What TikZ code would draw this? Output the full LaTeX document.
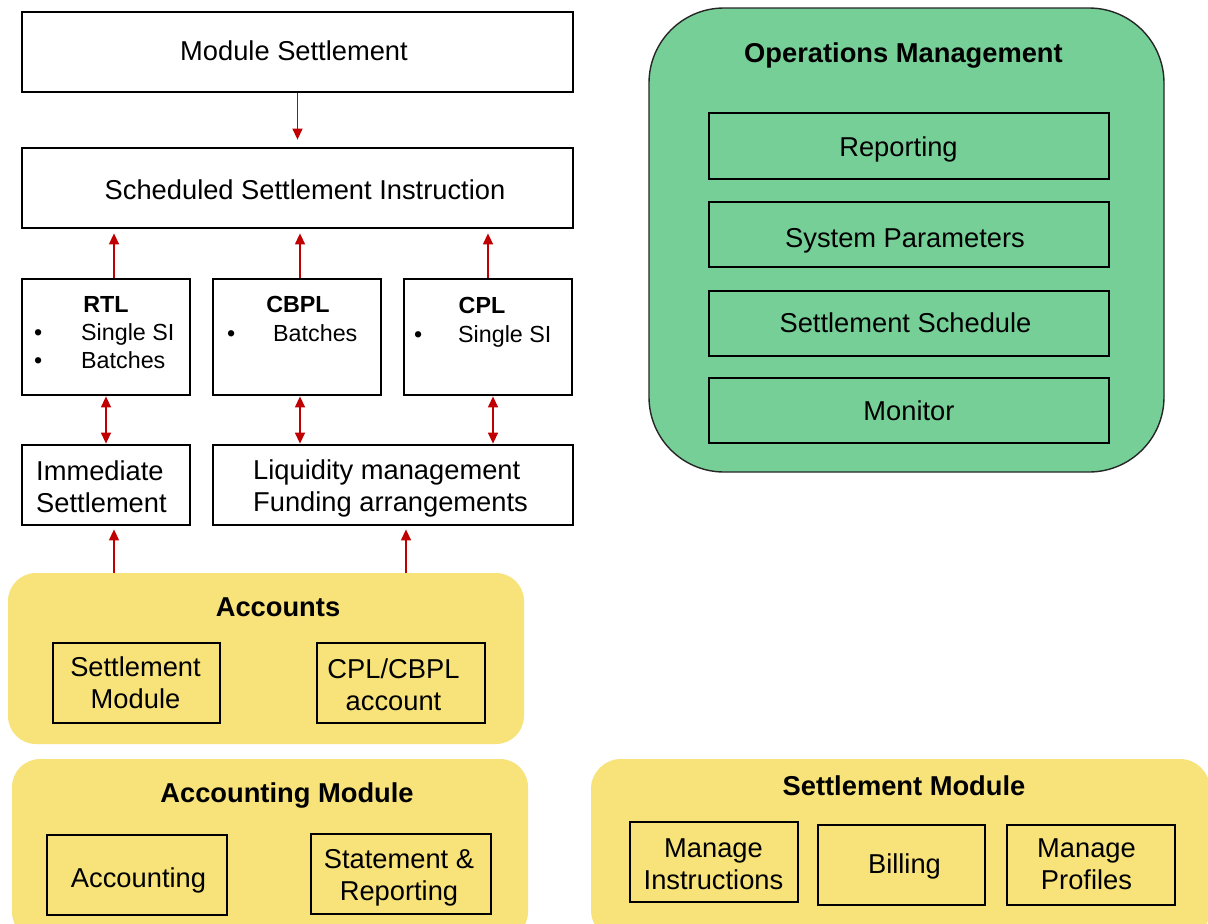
\documentclass[tikz,border=0pt]{standalone}
\usepackage{fontspec}
\setmainfont{Liberation Sans}
\usetikzlibrary{arrows.meta}

\definecolor{arrowred}{RGB}{192,0,0}
\definecolor{panelyellow}{RGB}{247,227,121}
\definecolor{panelgreen}{RGB}{118,207,151}

% struts so that a text block is centred on its capital letters
\newcommand\capstrut{\rule{0pt}{0.9em}}
\newcommand\basestrut{\rule[-0.184em]{0pt}{0.184em}}

\begin{document}
\begin{tikzpicture}[x=1pt,y=-1pt,
  whitebox/.style={draw=black, line width=2.8pt, fill=white, inner sep=0pt},
  innerbox/.style={draw=black, line width=2.8pt, inner sep=0pt},
  yellowpanel/.style={fill=panelyellow, draw=none, inner sep=0pt, rounded corners=28pt},
  greenpanel/.style={fill=panelgreen, draw=black!85, line width=1.4pt, inner sep=0pt, rounded corners=75pt},
  bigtxt/.style={inner sep=0pt, align=center, font=\fontsize{27.3}{32}\selectfont,
    execute at begin node=\capstrut, execute at end node=\basestrut},
  titletxt/.style={bigtxt, font=\fontsize{27.3}{32}\selectfont\bfseries},
  smalltxt/.style={bigtxt, font=\fontsize{23.3}{28}\selectfont},
  smallbold/.style={bigtxt, font=\fontsize{23.3}{28}\selectfont\bfseries},
  arr/.style={draw=arrowred, line width=1.3pt, -{Triangle[length=11pt,width=10pt]}},
  darr/.style={draw=arrowred, line width=1.3pt, {Triangle[length=11pt,width=10pt]}-{Triangle[length=11pt,width=10pt]}}
]
\useasboundingbox (0,0) rectangle (1208,924);
\clip (0,0) rectangle (1208,924);

% ---------------- settlement flow (left column) ----------------
\node[whitebox, minimum width=551pt, minimum height=80pt] (ms) at (297.5,52) {};
\node[bigtxt] (ms-t) at (294,51) {Module Settlement};

\node[whitebox, minimum width=551pt, minimum height=80pt] (ssi) at (297.5,188) {};
\node[bigtxt] (ssi-t) at (305,190) {Scheduled Settlement Instruction};

\node[whitebox, minimum width=168pt, minimum height=116pt] (rtl) at (106,337) {};
\node[smallbold] (rtl-t) at (106,304) {RTL};
\node[smalltxt, anchor=west, align=left] (rtl-l) at (34,348)
  {\makebox[47pt][l]{\textbullet}Single SI\\\makebox[47pt][l]{\textbullet}Batches};

\node[whitebox, minimum width=168pt, minimum height=116pt] (cbpl) at (297,337) {};
\node[smallbold] (cbpl-t) at (298,304) {CBPL};
\node[smalltxt, anchor=west, align=left] (cbpl-l) at (227,333)
  {\makebox[46pt][l]{\textbullet}Batches};

\node[whitebox, minimum width=168pt, minimum height=116pt] (cpl) at (488,337) {};
\node[smallbold] (cpl-t) at (482,305) {CPL};
\node[smalltxt, anchor=west, align=left] (cpl-l) at (414,334)
  {\makebox[44pt][l]{\textbullet}Single SI};

\node[whitebox, minimum width=168pt, minimum height=80pt] (imm) at (106,485) {};
\node[bigtxt, anchor=west, align=left] (imm-t) at (36,489.5) {Immediate\\Settlement};

\node[whitebox, minimum width=360pt, minimum height=80pt] (liq) at (393,485) {};
\node[bigtxt, anchor=west, align=left] (liq-t) at (253,488.5) {Liquidity management\\Funding arrangements};

% ---------------- Accounts ----------------
\node[yellowpanel, minimum width=516pt, minimum height=171pt] (acc) at (266,658.5) {};
\node[titletxt] (acc-t) at (278,607) {Accounts};
\node[innerbox, minimum width=167pt, minimum height=80pt] (setm) at (136.5,683) {};
\node[bigtxt] (setm-t) at (135.5,685.5) {Settlement\\Module};
\node[innerbox, minimum width=168pt, minimum height=80pt] (cplacc) at (401,683) {};
\node[bigtxt] (cplacc-t) at (393.5,687.5) {CPL/CBPL\\account};

% ---------------- Accounting Module ----------------
\node[yellowpanel, minimum width=516pt, minimum height=181pt] (accm) at (270,849.5) {};
\node[titletxt] (accm-t) at (287,793) {Accounting Module};
\node[innerbox, minimum width=180pt, minimum height=80pt] (accg) at (137,875) {};
\node[bigtxt] (accg-t) at (138.5,878) {Accounting};
\node[innerbox, minimum width=180pt, minimum height=80pt] (stmt) at (401,874) {};
\node[bigtxt] (stmt-t) at (399,877.5) {Statement \&\\Reporting};

% ---------------- Settlement Module ----------------
\node[yellowpanel, rounded corners=30pt, minimum width=619pt, minimum height=181pt] (sm) at (900.5,849.5) {};
\node[titletxt] (sm-t) at (904,786) {Settlement Module};
\node[innerbox, minimum width=168pt, minimum height=80pt] (mi) at (714,862) {};
\node[bigtxt] (mi-t) at (713.5,866.5) {Manage\\Instructions};
\node[innerbox, minimum width=167pt, minimum height=80pt] (bill) at (901.5,865) {};
\node[bigtxt] (bill-t) at (904.5,864) {Billing};
\node[innerbox, minimum width=168pt, minimum height=80pt] (mp) at (1091,865) {};
\node[bigtxt] (mp-t) at (1086.5,866.5) {Manage\\Profiles};

% ---------------- Operations Management ----------------
\node[greenpanel, minimum width=515pt, minimum height=464pt] (ops) at (906.5,240) {};
\node[titletxt] (ops-t) at (903.5,53) {Operations Management};
\node[innerbox, minimum width=400pt, minimum height=66pt] (rep) at (909,146) {};
\node[bigtxt] (rep-t) at (898.5,147) {Reporting};
\node[innerbox, minimum width=400pt, minimum height=65pt] (sysp) at (909,234.5) {};
\node[bigtxt] (sysp-t) at (905,238) {System Parameters};
\node[innerbox, minimum width=400pt, minimum height=65pt] (sched) at (909,323.5) {};
\node[bigtxt] (sched-t) at (905.5,323) {Settlement Schedule};
\node[innerbox, minimum width=400pt, minimum height=65pt] (mon) at (909,410.5) {};
\node[bigtxt] (mon-t) at (909,411) {Monitor};

% ---------------- connectors ----------------
\draw[arr, shorten >=7pt] (ms.south) -- (ssi.north);

\draw[arr, shorten >=4pt] ([xshift=8pt]rtl.north) -- ([xshift=8pt]rtl.north |- ssi.south);
\draw[arr, shorten >=4pt] ([xshift=3pt]cbpl.north) -- ([xshift=3pt]cbpl.north |- ssi.south);
\draw[arr, shorten >=4pt] (cpl.north) -- (cpl.north |- ssi.south);

\draw[darr] (rtl.south) -- (rtl.south |- imm.north);
\draw[darr] ([xshift=3pt]cbpl.south) -- ([xshift=3pt]cbpl.south |- liq.north);
\draw[darr] ([xshift=5pt]cpl.south) -- ([xshift=5pt]cpl.south |- liq.north);

\draw[arr, shorten >=3pt] ([xshift=8pt]imm.south |- acc.north) -- ([xshift=8pt]imm.south);
\draw[arr, shorten >=3pt] ([xshift=13pt]liq.south |- acc.north) -- ([xshift=13pt]liq.south);
\end{tikzpicture}
\end{document}
